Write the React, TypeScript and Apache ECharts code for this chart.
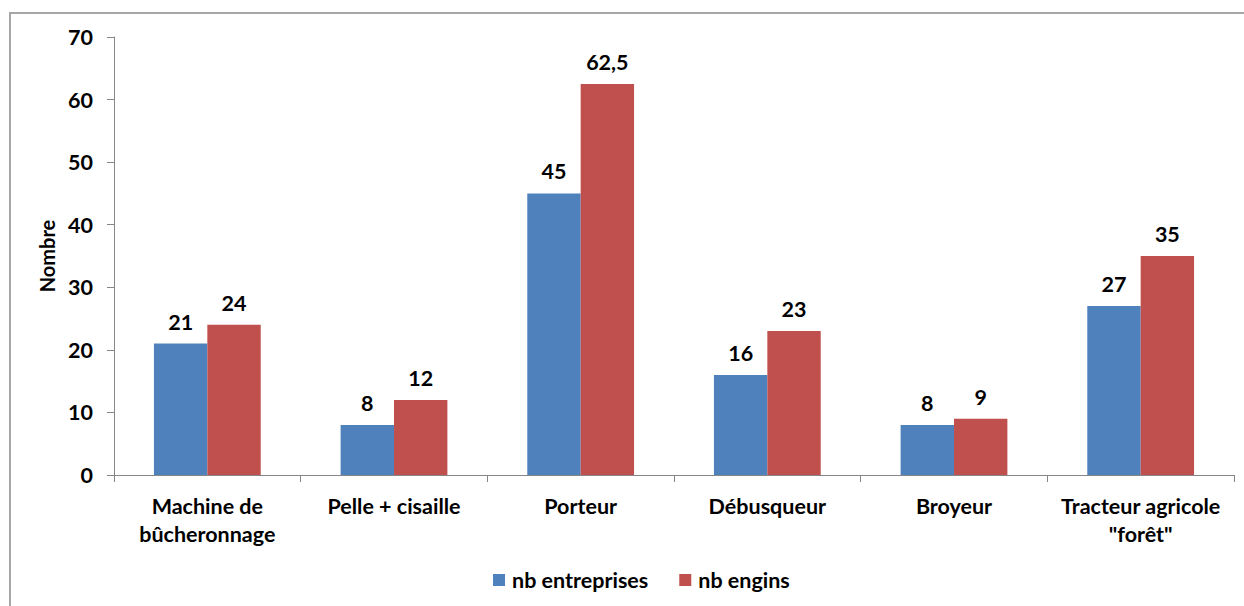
import React, { useEffect, useRef } from "react";
import * as echarts from "echarts";

const categories = [
  "Machine de\nbûcheronnage",
  "Pelle + cisaille",
  "Porteur",
  "Débusqueur",
  "Broyeur",
  "Tracteur agricole\n\"forêt\"",
];
const entreprises = [21, 8, 45, 16, 8, 27];
const engins = [24, 12, 62.5, 23, 9, 35];
const seriesNames = ["nb entreprises", "nb engins"];
const yTicks = { min: 0, max: 70, interval: 10 };

const FONT = "Lato, 'Open Sans', sans-serif";

export default function App() {
  const ref = useRef<HTMLDivElement>(null);
  useEffect(() => {
    if (!ref.current) return;
    const chart = echarts.init(ref.current, undefined, { renderer: "svg" });
    const labelCfg = {
      show: true,
      position: "top",
      distance: 11,
      color: "#000",
      fontSize: 21.5,
      fontWeight: "bold",
      fontFamily: FONT,
      formatter: (p: any) => String(p.value).replace(".", ","),
    };
    chart.setOption({
      animation: false,
      backgroundColor: "#fff",
      textStyle: { fontFamily: FONT },
      graphic: [
        {
          type: "rect",
          shape: { x: 10, y: 13, width: 1300, height: 700 },
          style: { fill: "none", stroke: "#a6a6a6", lineWidth: 2 },
          silent: true,
        },
      ],
      grid: { left: 114, right: 10, top: 37, bottom: 131, containLabel: false },
      legend: {
        bottom: 10,
        left: 488,
        itemWidth: 12,
        itemHeight: 12,
        itemGap: 31,
        icon: "rect",
        textStyle: { fontSize: 21.5, fontWeight: "bold", color: "#000", fontFamily: FONT, padding: [0, 0, 0, 2] },
        data: seriesNames,
      },
      xAxis: {
        type: "category",
        data: categories,
        axisLine: { lineStyle: { color: "#868686", width: 1 } },
        axisTick: { show: true, length: 7, alignWithLabel: false, lineStyle: { color: "#868686" } },
        axisLabel: {
          interval: 0,
          margin: 17,
          color: "#000",
          fontSize: 21.5,
          fontWeight: "bold",
          fontFamily: FONT,
          lineHeight: 28,
        },
      },
      yAxis: {
        type: "value",
        min: yTicks.min,
        max: yTicks.max,
        interval: yTicks.interval,
        name: "Nombre",
        nameLocation: "middle",
        nameGap: 55,
        nameRotate: 90,
        nameTextStyle: { color: "#000", fontSize: 20, fontWeight: "bold", fontFamily: FONT },
        axisLine: { show: true, lineStyle: { color: "#868686" } },
        axisTick: { show: true, length: 7, lineStyle: { color: "#868686" } },
        splitLine: { show: false },
        axisLabel: {
          margin: 21,
          color: "#000",
          fontSize: 21.5,
          fontWeight: "bold",
          fontFamily: FONT,
        },
      },
      series: [
        {
          name: seriesNames[0],
          type: "bar",
          data: entreprises,
          itemStyle: { color: "#4F81BD" },
          barWidth: "28.6%",
          barGap: "0%",
          label: labelCfg,
        },
        {
          name: seriesNames[1],
          type: "bar",
          data: engins,
          itemStyle: { color: "#C0504D" },
          barWidth: "28.6%",
          barGap: "0%",
          label: labelCfg,
        },
      ],
    });
    return () => chart.dispose();
  }, []);
  return (
    <div
      ref={ref}
      style={{ position: "absolute", left: 0, top: 0, width: 1244, height: 606 }}
    />
  );
}
